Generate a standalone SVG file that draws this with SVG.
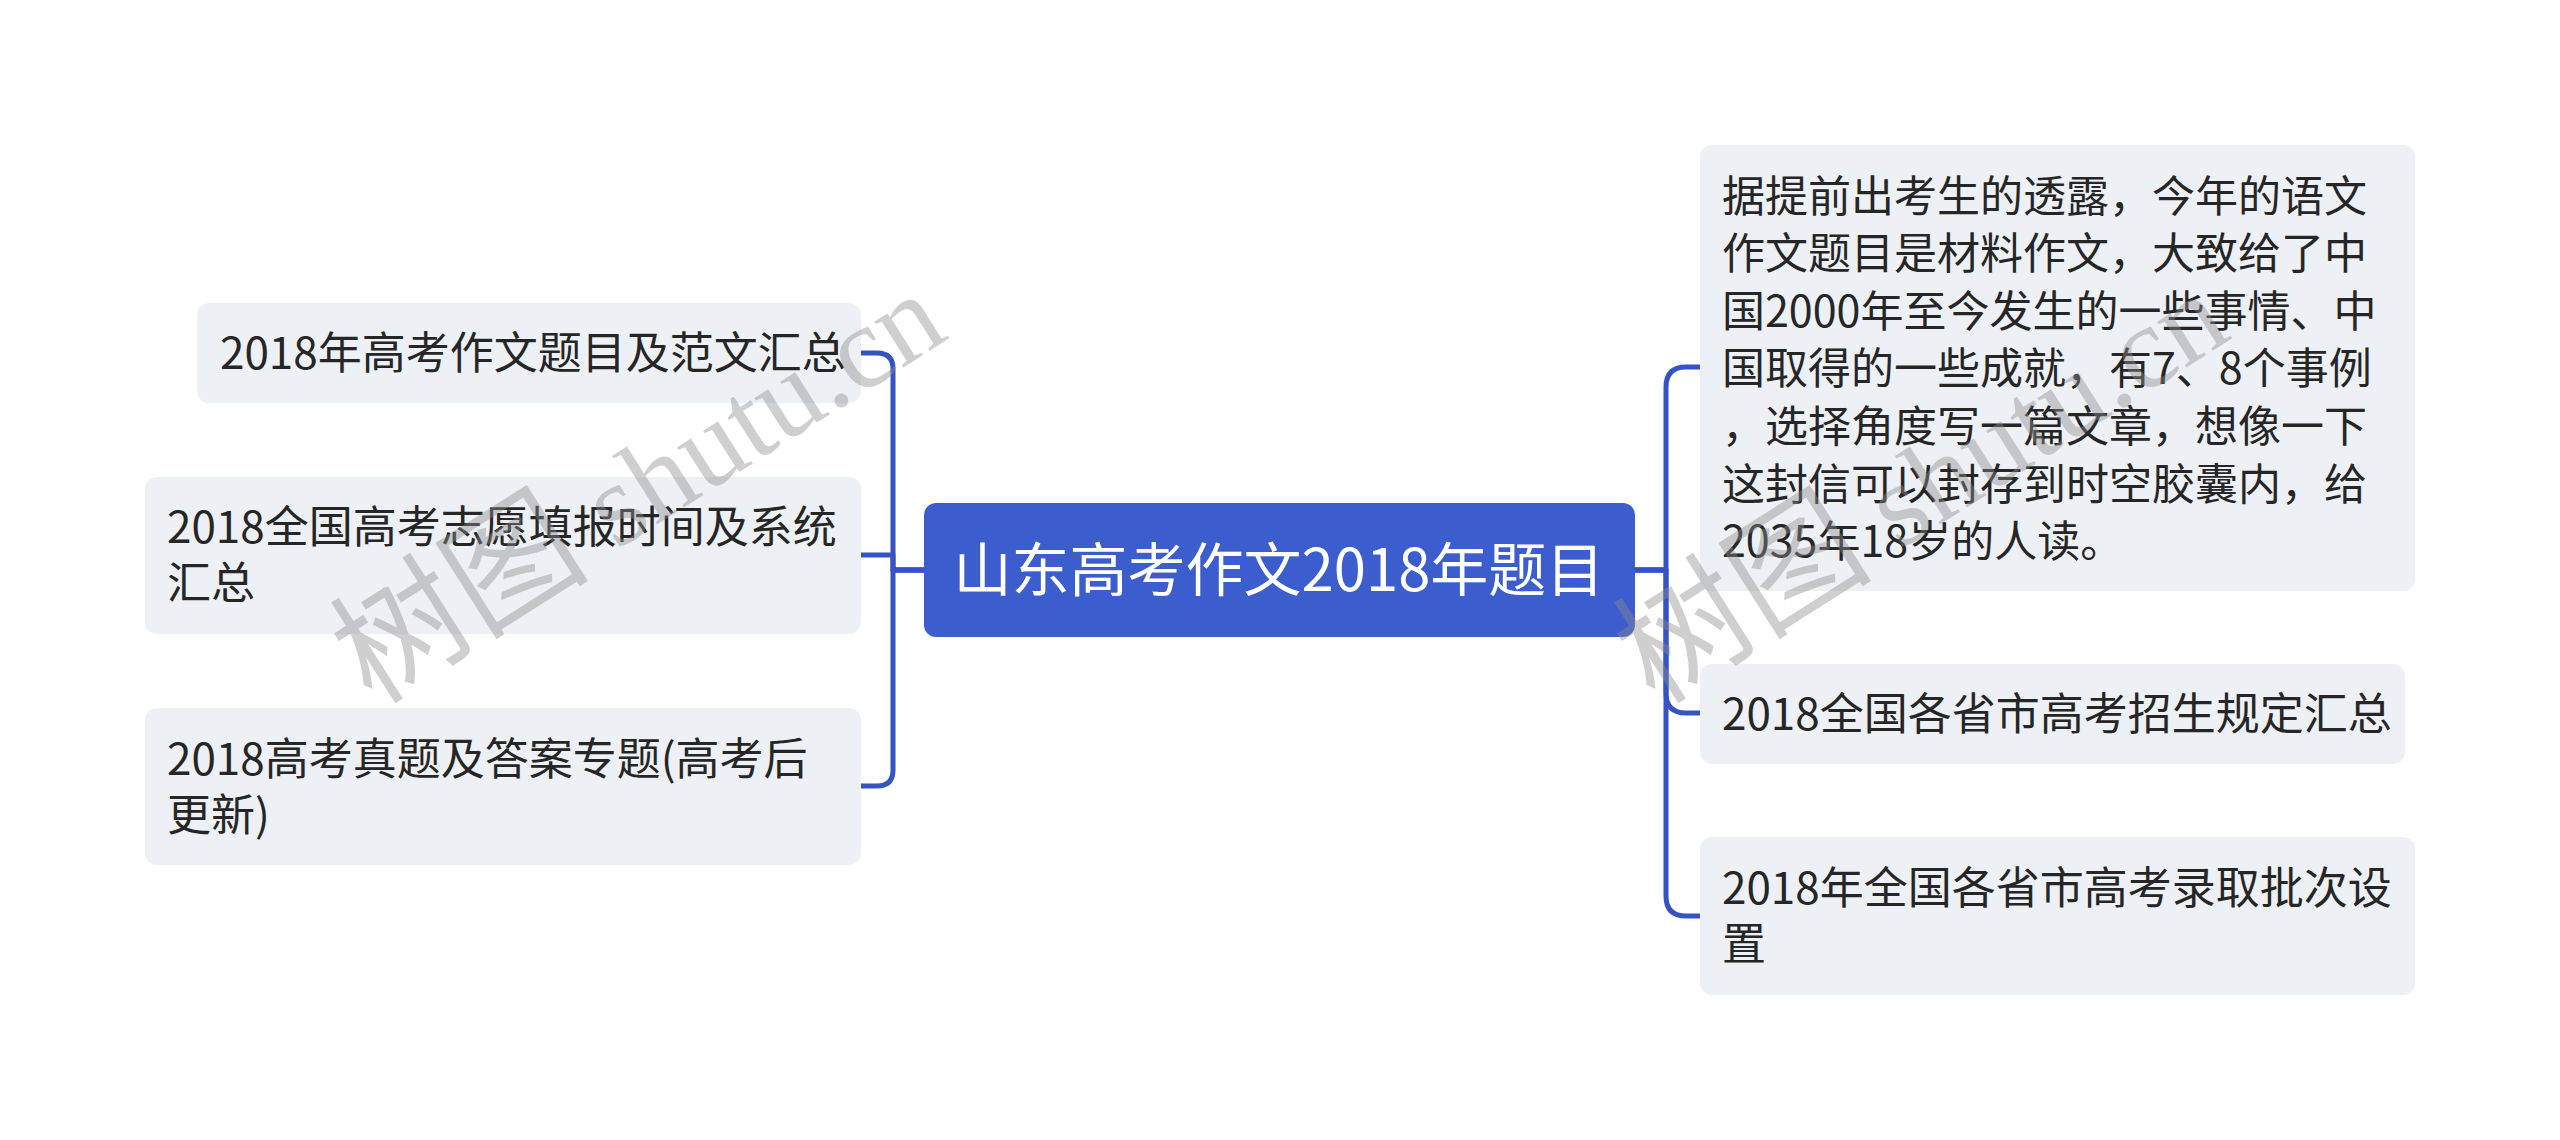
<svg xmlns="http://www.w3.org/2000/svg" width="2560" height="1140" viewBox="0 0 2560 1140">
<style>
.bg{fill:#ffffff}
.node rect{fill:#edf0f4}
.node text{font-family:"Noto Sans CJK SC","Microsoft YaHei",sans-serif;font-size:44px;fill:#262626}
.node.long text{font-size:43px}
.root rect{fill:#3b5dcd}
.root text{font-family:"Noto Sans CJK SC",sans-serif;font-size:58px;fill:#ffffff;text-anchor:middle}
.conn path{fill:none;stroke:#3653c4;stroke-width:5;stroke-linejoin:round}
.wm{font-family:"Liberation Serif","Noto Sans CJK SC",serif;font-size:118px;fill:#8c8c8c;fill-opacity:0.42}
.wm .cjk{font-size:130px}
</style>
<rect class="bg" x="0" y="0" width="2560" height="1140"/>
<g id="connectors" class="conn">
<path d="M924,570 H893 V369 Q893,353 877,353 H861"/>
<path d="M924,570 H893 V555 H861"/>
<path d="M924,570 H893 V770 Q893,786 877,786 H861"/>
<path d="M1634,570 H1666 V387 Q1666,367 1686,367 H1700"/>
<path d="M1634,570 H1666 V693 Q1666,713 1686,713 H1700"/>
<path d="M1634,570 H1666 V896 Q1666,916 1686,916 H1700"/>
</g>
<g id="root" class="root">
<rect x="924" y="503" width="711" height="134" rx="12"/>
<text x="1279" y="591">山东高考作文2018年题目</text>
</g>
<g id="left1" class="node">
<rect x="197" y="303" width="664" height="100" rx="12"/>
<text x="220" y="369">2018年高考作文题目及范文汇总</text>
</g>
<g id="left2" class="node">
<rect x="145" y="477" width="716" height="157" rx="12"/>
<text x="167" y="543">2018全国高考志愿填报时间及系统</text>
<text x="167" y="599">汇总</text>
</g>
<g id="left3" class="node">
<rect x="145" y="708" width="716" height="157" rx="12"/>
<text x="167" y="775">2018高考真题及答案专题(高考后</text>
<text x="167" y="831">更新)</text>
</g>
<g id="right1" class="node long">
<rect x="1700" y="145" width="715" height="446" rx="12"/>
<text x="1722" y="211.5">据提前出考生的透露，今年的语文</text>
<text x="1722" y="269.1">作文题目是材料作文，大致给了中</text>
<text x="1722" y="326.7">国2000年至今发生的一些事情、中</text>
<text x="1722" y="384.3">国取得的一些成就，有7、8个事例</text>
<text x="1722" y="441.9">，选择角度写一篇文章，想像一下</text>
<text x="1722" y="499.5">这封信可以封存到时空胶囊内，给</text>
<text x="1722" y="557.1">2035年18岁的人读。</text>
</g>
<g id="right2" class="node">
<rect x="1700" y="664" width="705" height="100" rx="12"/>
<text x="1722" y="730">2018全国各省市高考招生规定汇总</text>
</g>
<g id="right3" class="node">
<rect x="1700" y="837" width="715" height="158" rx="12"/>
<text x="1722" y="904">2018年全国各省市高考录取批次设</text>
<text x="1722" y="960">置</text>
</g>
<g id="watermarks">
<text class="wm" transform="translate(372,706) rotate(-32.5)"><tspan class="cjk">树图</tspan> shutu.cn</text>
<text class="wm" transform="translate(1655,706) rotate(-32.5)"><tspan class="cjk">树图</tspan> shutu.cn</text>
</g>
</svg>
